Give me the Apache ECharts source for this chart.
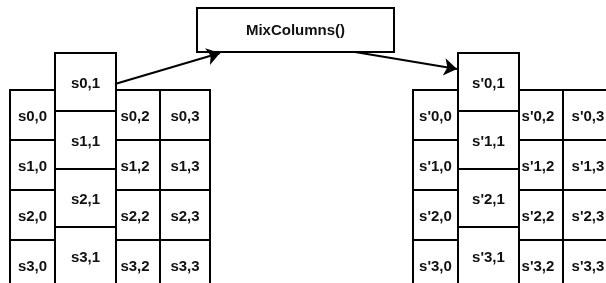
<!DOCTYPE html>
<html>
<head>
<meta charset="utf-8">
<script src="https://cdn.jsdelivr.net/npm/echarts@6/dist/echarts.min.js"></script>
<style>
  html, body { margin: 0; padding: 0; background: #fff; }
  #chart { width: 606px; height: 283px; }
</style>
</head>
<body>
<div id="chart"></div>
<script>
// state labels, row by row (before / after MixColumns)
const stateIn = [
  ["s0,0", "s0,1", "s0,2", "s0,3"],
  ["s1,0", "s1,1", "s1,2", "s1,3"],
  ["s2,0", "s2,1", "s2,2", "s2,3"],
  ["s3,0", "s3,1", "s3,2", "s3,3"],
];
const stateOut = [
  ["s'0,0", "s'0,1", "s'0,2", "s'0,3"],
  ["s'1,0", "s'1,1", "s'1,2", "s'1,3"],
  ["s'2,0", "s'2,1", "s'2,2", "s'2,3"],
  ["s'3,0", "s'3,1", "s'3,2", "s'3,3"],
];
const opLabel = "MixColumns()";
const highlightCol = 1; // the column being mixed

// layout (pixel units on hidden axes)
const stateLeft = [10, 413];
const colW = [45, 61, 44, 50];
const rowTop = 90, rowH = 50;
const colTop = 53, colH = 58;
const opBox = [197, 8, 394, 52];
const arrows = [
  [[115, 84], [220, 53]],
  [[355, 52], [457, 69]],
];

const FONT = "Liberation Sans, Arial, Helvetica, sans-serif";
const states = [stateIn, stateOut];

// cells: [state, col, row]; highlighted column drawn last
let cells = [];
for (let s = 0; s < 2; s++) {
  for (let c = 0; c < 4; c++) {
    if (c === highlightCol) continue;
    for (let r = 0; r < 4; r++) cells.push([s, c, r]);
  }
  for (let r = 0; r < 4; r++) cells.push([s, highlightCol, r]);
}

function cellRect(s, c, r) {
  let x = stateLeft[s];
  for (let i = 0; i < c; i++) x += colW[i];
  let y, h;
  if (c === highlightCol) { y = colTop + r * colH; h = colH; }
  else { y = rowTop + r * rowH; h = rowH; }
  return [x, y, colW[c], h];
}

const chart = echarts.init(document.getElementById("chart"));
chart.setOption({
  animation: false,
  backgroundColor: "#fff",
  grid: { left: 0, right: 0, top: 0, bottom: 0 },
  xAxis: { type: "value", min: 0, max: 606, show: false },
  yAxis: { type: "value", min: 0, max: 283, inverse: true, show: false },
  series: [
    {
      type: "custom",
      coordinateSystem: "cartesian2d",
      data: cells,
      renderItem: function (params, api) {
        const s = api.value(0), c = api.value(1), r = api.value(2);
        const b = cellRect(s, c, r);
        const p0 = api.coord([b[0], b[1]]);
        const p1 = api.coord([b[0] + b[2], b[1] + b[3]]);
        return {
          type: "rect",
          shape: { x: p0[0], y: p0[1], width: p1[0] - p0[0], height: p1[1] - p0[1] },
          style: { fill: "#fff", stroke: "#000", lineWidth: 2 },
          textContent: {
            style: {
              text: states[s][r][c],
              font: "bold 15px " + FONT,
              fill: "#111",
            },
          },
          textConfig: { position: "inside", offset: [c === 2 ? -3 : 0, 2] },
        };
      },
      silent: true,
      z: 2,
    },
    {
      type: "custom",
      coordinateSystem: "cartesian2d",
      data: [[0]],
      renderItem: function (params, api) {
        const p0 = api.coord([opBox[0], opBox[1]]);
        const p1 = api.coord([opBox[2], opBox[3]]);
        return {
          type: "rect",
          shape: { x: p0[0], y: p0[1], width: p1[0] - p0[0], height: p1[1] - p0[1] },
          style: { fill: "#fff", stroke: "#000", lineWidth: 2 },
          textContent: {
            style: { text: opLabel, font: "bold 15px " + FONT, fill: "#111" },
          },
          textConfig: { position: "inside", offset: [0, 1] },
        };
      },
      silent: true,
      z: 2,
    },
    {
      type: "lines",
      coordinateSystem: "cartesian2d",
      data: arrows.map((a) => ({ coords: a })),
      symbol: ["none", "arrow"],
      symbolSize: [10, 13],
      lineStyle: { color: "#000", width: 2, opacity: 1 },
      silent: true,
      z: 3,
    },
  ],
});
</script>
</body>
</html>
